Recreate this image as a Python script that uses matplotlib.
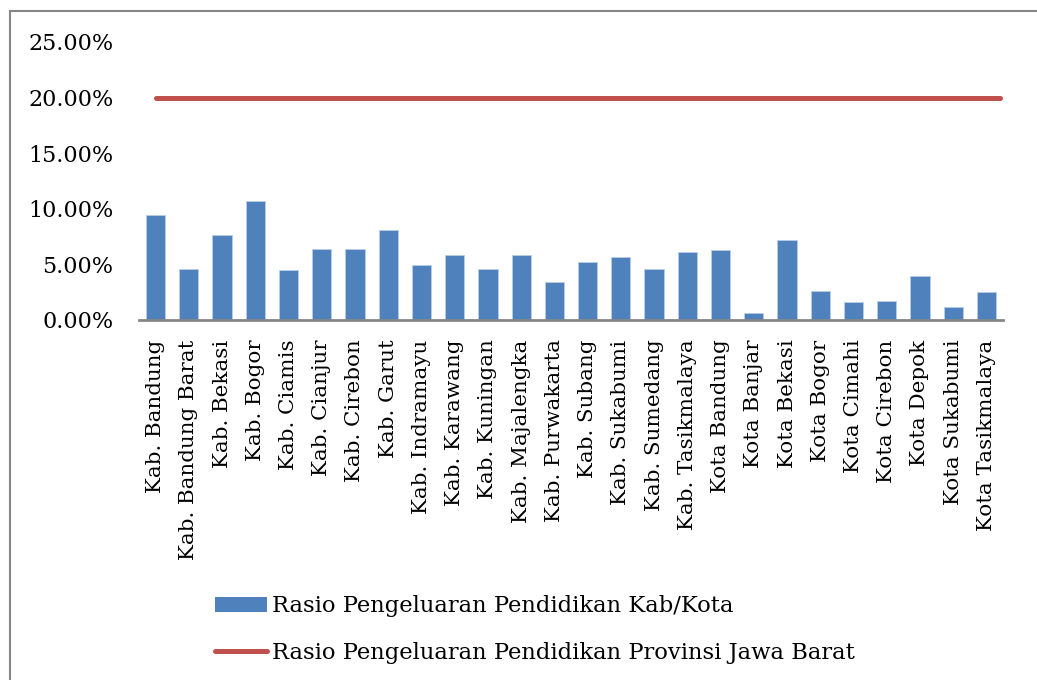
import numpy as np
import matplotlib.pyplot as plt
from matplotlib.patches import Patch, Rectangle
from matplotlib.lines import Line2D
from matplotlib.ticker import FuncFormatter

plt.rcParams['font.family'] = ['DejaVu Serif']

# data
daerah = ['Kab. Bandung', 'Kab. Bandung Barat', 'Kab. Bekasi', 'Kab. Bogor', 'Kab. Ciamis',
          'Kab. Cianjur', 'Kab. Cirebon', 'Kab. Garut', 'Kab. Indramayu', 'Kab. Karawang',
          'Kab. Kuningan', 'Kab. Majalengka', 'Kab. Purwakarta', 'Kab. Subang', 'Kab. Sukabumi',
          'Kab. Sumedang', 'Kab. Tasikmalaya', 'Kota Bandung', 'Kota Banjar', 'Kota Bekasi',
          'Kota Bogor', 'Kota Cimahi', 'Kota Cirebon', 'Kota Depok', 'Kota Sukabumi',
          'Kota Tasikmalaya']
rasio_kabkota = [9.47, 4.61, 7.61, 10.73, 4.52, 6.35, 6.41, 8.12, 4.91, 5.81,
                 4.61, 5.84, 3.42, 5.22, 5.67, 4.61, 6.14, 6.29, 0.66, 7.22,
                 2.63, 1.65, 1.71, 3.96, 1.20, 2.52]
rasio_provinsi = [20.0] * len(daerah)

label_bar = 'Rasio Pengeluaran Pendidikan Kab/Kota'
label_line = 'Rasio Pengeluaran Pendidikan Provinsi Jawa Barat'

biru = '#4F81BD'
merah = '#C0504D'
abu = '#868686'

fig = plt.figure(figsize=(10.37, 6.8), dpi=100)
ax = fig.add_axes([139 / 1037, 1 - 320 / 680, (1003 - 139) / 1037, (320 - 42) / 680])

x = np.arange(len(daerah))
ax.bar(x, rasio_kabkota, width=0.58, color=biru, edgecolor='#B9CDE5', linewidth=0.6)

# the provincial line sits on a secondary category axis (slightly wider spacing)
ax2 = ax.twiny()
ax2.plot(x, rasio_provinsi, color=merah, linewidth=3.6, solid_capstyle='round')
ax2.set_xlim(-0.5, 25.1)
ax2.set_ylim(0, 25)
ax2.axis('off')

ax.set_xlim(-0.5, len(daerah) - 0.5)
ax.set_ylim(0, 25)
ax.set_yticks(np.arange(0, 26, 5))
ax.yaxis.set_major_formatter(FuncFormatter(lambda v, p: f'{v:.2f}%'))
ax.set_xticks(x)
ax.set_xticklabels(daerah, rotation=90)
ax.tick_params(axis='both', length=0, labelsize=15.4, colors='black')
ax.tick_params(axis='y', pad=18.5, labelsize=16)
ax.tick_params(axis='x', pad=14)

for s in ['top', 'right', 'left']:
    ax.spines[s].set_visible(False)
ax.spines['bottom'].set_color(abu)
ax.spines['bottom'].set_linewidth(2)

# outer chart border
fig.add_artist(Rectangle((10 / 1037, -0.05), 1.1, 1 - 11 / 680 + 0.05, transform=fig.transFigure,
                         fill=False, edgecolor=abu, linewidth=1.5))

handles = [Patch(facecolor=biru, edgecolor='none'),
           Line2D([0], [0], color=merah, linewidth=3.6, solid_capstyle='round')]
fig.legend(handles, [label_bar, label_line], loc='upper left',
           bbox_to_anchor=(195 / 1037, 1 - 575 / 680), frameon=False, fontsize=16.3,
           handlelength=2.3, handletextpad=0.2, labelspacing=1.1)

fig.savefig('out.png', dpi=100)
